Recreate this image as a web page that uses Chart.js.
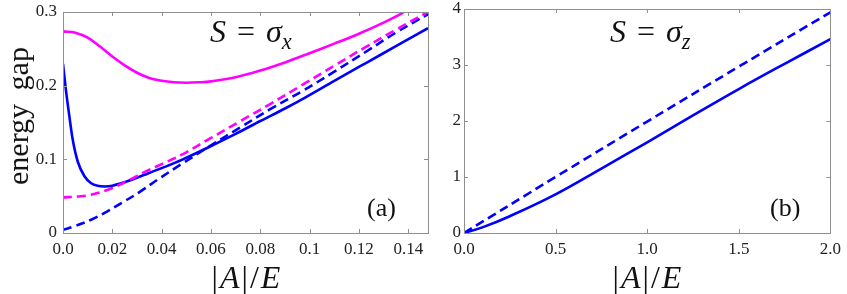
<!DOCTYPE html>
<html>
<head>
<meta charset="utf-8">
<script src="https://cdn.jsdelivr.net/npm/chart.js@4.4.1/dist/chart.umd.min.js"></script>
<style>
    body { margin: 0; background: #fff; width: 847px; height: 294px; overflow: hidden; position: relative; font-family: 'Liberation Serif', 'Times New Roman', serif; }
    .panel { position: absolute; top: 0; height: 294px; }
    .lbl { position: absolute; white-space: nowrap; line-height: 1; color: #111; }
    .sub { font-size: 0.7em; position: relative; top: 0.3em; font-style: italic; }
    .ax { letter-spacing: 2px; }
</style>
</head>
<body>
<div class="panel" style="left:0;width:440px"><canvas id="chartA" width="440" height="294"></canvas></div>
<div class="panel" style="left:410px;width:437px"><canvas id="chartB" width="437" height="294"></canvas></div>

<div class="lbl" style="left:18px;top:116px;font-size:30px;transform:translate(-50%,-50%) rotate(-90deg);word-spacing:6px">energy gap</div>
<div class="lbl ax" style="left:247px;top:261px;font-size:32px;transform:translateX(-50%)">|<i>A</i>|/<i>E</i></div>
<div class="lbl ax" style="left:648px;top:261px;font-size:32px;transform:translateX(-50%)">|<i>A</i>|/<i>E</i></div>
<div class="lbl" style="left:210px;top:15px;font-size:32px;word-spacing:3px"><i>S</i> = <i>σ</i><span class="sub">x</span></div>
<div class="lbl" style="left:610px;top:15px;font-size:32px;word-spacing:3px"><i>S</i> = <i>σ</i><span class="sub">z</span></div>
<div class="lbl" style="left:367px;top:195px;font-size:26px">(a)</div>
<div class="lbl" style="left:770px;top:195px;font-size:26px">(b)</div>

<script>
// panel (a), S = sigma_x
const aXTicks = [0, 0.02, 0.04, 0.06, 0.08, 0.1, 0.12, 0.14];
const aXTickLabels = ['0.0', '0.02', '0.04', '0.06', '0.08', '0.1', '0.12', '0.14'];
const aYTicks = [0, 0.1, 0.2, 0.3];
const aYTickLabels = ['0', '0.1', '0.2', '0.3'];

const aMagentaSolidX = [0, 0.005, 0.01, 0.015, 0.02, 0.025, 0.03, 0.035, 0.04, 0.045, 0.05, 0.055, 0.06, 0.07, 0.08, 0.09, 0.1, 0.11, 0.12, 0.13, 0.138];
const aMagentaSolidY = [0.2736, 0.2718, 0.2650, 0.2530, 0.2395, 0.2275, 0.2175, 0.2105, 0.2065, 0.2045, 0.2040, 0.2045, 0.2058, 0.2115, 0.2205, 0.2315, 0.2440, 0.2570, 0.2705, 0.2855, 0.299];

const aBlueSolidX = [0, 0.0012, 0.0026, 0.0039, 0.006, 0.0087, 0.0114, 0.014, 0.017, 0.02, 0.025, 0.033, 0.04, 0.0486, 0.06, 0.07, 0.08, 0.09, 0.098, 0.11, 0.123, 0.135, 0.148];
const aBlueSolidY = [0.2296, 0.1935, 0.158, 0.1275, 0.0967, 0.077, 0.0675, 0.0640, 0.0632, 0.0642, 0.069, 0.079, 0.088, 0.100, 0.118, 0.1345, 0.152, 0.169, 0.1835, 0.2065, 0.231, 0.2535, 0.278];

const aMagentaDashedX = [0, 0.006, 0.0114, 0.0195, 0.027, 0.033, 0.04, 0.048, 0.06, 0.072, 0.084, 0.097, 0.11, 0.123, 0.135, 0.148];
const aMagentaDashedY = [0.0483, 0.0495, 0.0519, 0.0605, 0.072, 0.0826, 0.0935, 0.106, 0.129, 0.152, 0.175, 0.201, 0.227, 0.2529, 0.276, 0.300];

const aBlueDashedX = [0, 0.005, 0.0114, 0.018, 0.0249, 0.031, 0.0384, 0.048, 0.06, 0.072, 0.084, 0.097, 0.11, 0.123, 0.135, 0.148];
const aBlueDashedY = [0.0044, 0.0095, 0.018, 0.0295, 0.043, 0.0555, 0.0725, 0.0935, 0.119, 0.1435, 0.168, 0.1925, 0.219, 0.2463, 0.272, 0.297];

// panel (b), S = sigma_z
const bXTicks = [0, 0.5, 1, 1.5, 2];
const bXTickLabels = ['0.0', '0.5', '1.0', '1.5', '2.0'];
const bYTicks = [0, 1, 2, 3, 4];
const bYTickLabels = ['0', '1', '2', '3', '4'];

const bSolidX = [0, 0.1, 0.25, 0.5, 0.75, 1.0, 1.25, 1.5, 1.75, 2.0];
const bSolidY = [0, 0.1, 0.30, 0.69, 1.15, 1.62, 2.1, 2.57, 3.02, 3.46];

const bDashedX = [0, 0.5, 1.0, 1.5, 2.0];
const bDashedY = [0, 1.0, 1.99, 2.97, 3.94];

const BLUE = '#0000ff';
const MAGENTA = '#ff00ff';
const FRAME = '#8f8f8f';

Chart.defaults.font.family = "'Liberation Serif', 'Times New Roman', serif";
Chart.defaults.color = '#222';

function points(xs, ys) {
    return xs.map((x, i) => ({ x: x, y: ys[i] }));
}

function line(xs, ys, color, dashed, monotone) {
    return {
        data: points(xs, ys),
        borderColor: color,
        borderWidth: 2.6,
        borderDash: dashed ? [9, 5] : [],
        pointRadius: 0,
        fill: false,
        tension: 0.4,
        cubicInterpolationMode: monotone ? 'monotone' : 'default'
    };
}

// frame on all four sides with short inward tick marks
const frameTicks = {
    id: 'frameTicks',
    afterDraw(chart) {
        const { ctx, chartArea: a, scales: { x, y } } = chart;
        ctx.save();
        ctx.strokeStyle = FRAME;
        ctx.lineWidth = 1;
        ctx.strokeRect(Math.round(a.left) + 0.5, Math.round(a.top) + 0.5, Math.round(a.right - a.left), Math.round(a.bottom - a.top));
        ctx.beginPath();
        x.ticks.forEach(t => {
            const px = Math.round(x.getPixelForValue(t.value)) + 0.5;
            ctx.moveTo(px, a.bottom); ctx.lineTo(px, a.bottom - 4);
            ctx.moveTo(px, a.top); ctx.lineTo(px, a.top + 4);
        });
        y.ticks.forEach(t => {
            const py = Math.round(y.getPixelForValue(t.value)) + 0.5;
            ctx.moveTo(a.left, py); ctx.lineTo(a.left + 4, py);
            ctx.moveTo(a.right, py); ctx.lineTo(a.right - 4, py);
        });
        ctx.stroke();
        ctx.restore();
    }
};

function makeChart(id, datasets, o) {
    return new Chart(document.getElementById(id), {
        type: 'line',
        data: { datasets: datasets },
        options: {
            responsive: false,
            animation: false,
            devicePixelRatio: 1,
            layout: { padding: { top: o.top, right: o.right, left: 0, bottom: 0 } },
            plugins: { legend: { display: false }, tooltip: { enabled: false } },
            scales: {
                x: {
                    type: 'linear',
                    min: o.xMin, max: o.xMax,
                    afterBuildTicks: s => { s.ticks = o.xTicks.map(v => ({ value: v })); },
                    afterFit: s => { s.height = 294 - o.bottom; },
                    grid: { display: false, drawTicks: false },
                    border: { display: false },
                    ticks: {
                        autoSkip: false, maxRotation: 0, padding: 6,
                        font: { size: 17 },
                        callback: (v, i) => o.xLabels[i]
                    }
                },
                y: {
                    type: 'linear',
                    min: o.yMin, max: o.yMax,
                    afterBuildTicks: s => { s.ticks = o.yTicks.map(v => ({ value: v })); },
                    afterFit: s => { s.width = o.left; },
                    grid: { display: false, drawTicks: false },
                    border: { display: false },
                    ticks: {
                        autoSkip: false, padding: o.yPad,
                        font: { size: 17, lineHeight: 0.7 },
                        callback: (v, i) => o.yLabels[i]
                    }
                }
            }
        },
        plugins: [frameTicks]
    });
}

makeChart('chartA', [
    line(aMagentaSolidX, aMagentaSolidY, MAGENTA, false, false),
    line(aMagentaDashedX, aMagentaDashedY, MAGENTA, true, false),
    line(aBlueDashedX, aBlueDashedY, BLUE, true, false),
    line(aBlueSolidX, aBlueSolidY, BLUE, false, true)
], {
    top: 6, right: 12, bottom: 233, left: 63, yPad: 6,
    xMin: 0, xMax: 0.148, yMin: 0, yMax: 0.3,
    xTicks: aXTicks, xLabels: aXTickLabels, yTicks: aYTicks, yLabels: aYTickLabels
});

makeChart('chartB', [
    line(bDashedX, bDashedY, BLUE, true, false),
    line(bSolidX, bSolidY, BLUE, false, false)
], {
    top: 7, right: 16, bottom: 233, left: 54, yPad: 3,
    xMin: 0, xMax: 2, yMin: 0, yMax: 4,
    xTicks: bXTicks, xLabels: bXTickLabels, yTicks: bYTicks, yLabels: bYTickLabels
});
</script>
</body>
</html>
